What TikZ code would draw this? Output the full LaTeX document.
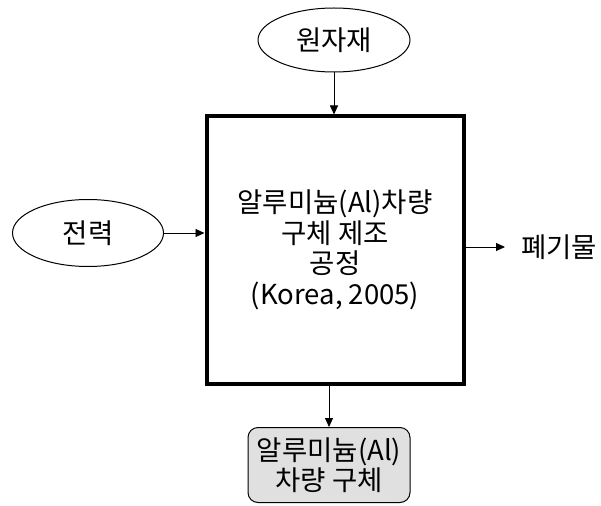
\documentclass[tikz,border=0pt]{standalone}
\usepackage{fontspec}
\setmainfont{Noto Sans CJK KR}
\usetikzlibrary{shapes.geometric,arrows.meta}
\begin{document}
\begin{tikzpicture}[x=1pt,y=-1pt,
  every node/.style={font=\fontsize{27.5}{30.5}\selectfont},
  oval/.style={ellipse,draw,line width=1pt,inner sep=0pt},
  arr/.style={-{Triangle[length=9pt,width=8pt]},line width=0.9pt}]
\useasboundingbox (0,0) rectangle (601,505);
\node[draw,line width=4pt,minimum width=257pt,minimum height=267pt,align=center] (proc) at (335,250)
  {알루미늄(Al)차량\\구체 제조\\공정\\(Korea, 2005)};
\node[oval,minimum width=152pt,minimum height=64pt] (raw) at (334,40) {원자재};
\node[oval,minimum width=151pt,minimum height=67pt] (power) at (88,233) {전력};
\node[draw,rounded corners=10pt,fill=black!12,line width=1pt,minimum width=162pt,minimum height=75pt,align=center,inner sep=0pt] (prod) at (329,465)
  {알루미늄(Al)\\차량 구체};
\node[anchor=west,inner sep=0pt] (waste) at (521,247) {폐기물};
\coordinate (wend) at (505,247);
\draw[arr] (raw.south) -- (proc.north -| raw.south);
\draw[arr] (power.east) -- (proc.west |- power.east);
\draw[arr] (proc.east |- wend) -- (wend);
\draw[arr] (proc.south -| prod.north) -- (prod.north);
\end{tikzpicture}
\end{document}
